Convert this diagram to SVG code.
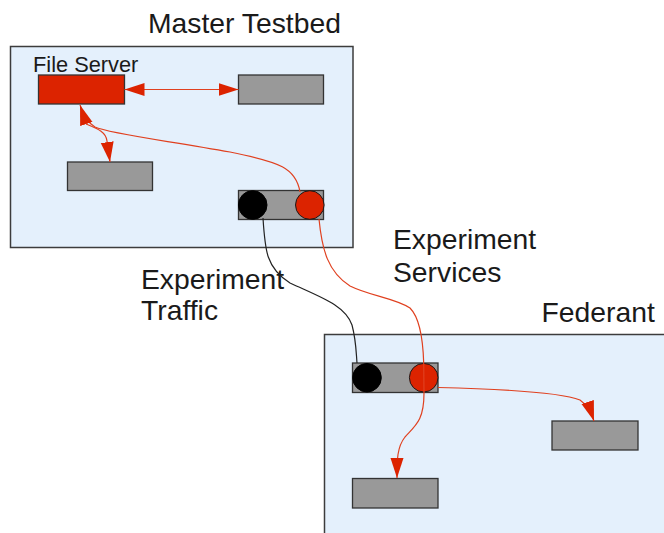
<svg xmlns="http://www.w3.org/2000/svg" width="664" height="533" viewBox="0 0 664 533">
<style>
.area{fill:#e4f0fc;stroke:#3c3c3c;stroke-width:1.5}
.box{fill:#999999;stroke:#333333;stroke-width:1.3}
.red{fill:#dc2300;stroke:#333333;stroke-width:1.3}
.dot{fill:#000000;stroke:#000000;stroke-width:1}
.rdot{fill:#dc2300;stroke:#1a1a1a;stroke-width:1}
.t{font-family:"Liberation Sans",Arial,sans-serif;fill:#1a1a1a}
.big{font-size:28.3px}
.small{font-size:21.8px}
.rl{fill:none;stroke:#e0401f;stroke-width:1.2}
.bl{fill:none;stroke:#222222;stroke-width:1.2}
</style>
<defs>
<marker id="ah" markerUnits="userSpaceOnUse" markerWidth="21" markerHeight="14" refX="20" refY="7" orient="auto-start-reverse">
<path d="M0,0.5 L20,7 L0,13.5 z" fill="#dc2300"/>
</marker>
</defs>
<g id="master">
<rect class="area" x="10.5" y="46.5" width="342.5" height="201"/>
<text class="t big" x="148" y="33">Master Testbed</text>
</g>
<g id="federant">
<rect class="area" x="324.5" y="334.5" width="360" height="220"/>
<text class="t big" x="541.5" y="322">Federant</text>
</g>
<g id="fileserver">
<text class="t small" x="33" y="71.7">File Server</text>
<rect class="red" x="38.5" y="75" width="86" height="29"/>
</g>
<g id="m-node1"><rect class="box" x="238.5" y="75" width="85" height="29"/></g>
<g id="m-node2"><rect class="box" x="67.5" y="162" width="85" height="28.5"/></g>
<g id="m-gateway">
<rect class="box" x="238.5" y="190.5" width="85" height="29"/>
<circle class="dot" cx="252.7" cy="205" r="14.3"/>
<circle class="rdot" cx="309.8" cy="205" r="14.3"/>
</g>
<g id="f-gateway">
<rect class="box" x="352.5" y="363" width="85.5" height="29.5"/>
<circle class="dot" cx="367" cy="377.7" r="14.3"/>
<circle class="rdot" cx="423.7" cy="377.7" r="14.3"/>
</g>
<g id="f-node1"><rect class="box" x="552" y="421" width="86" height="29"/></g>
<g id="f-node2"><rect class="box" x="352.5" y="478.5" width="85.5" height="29.5"/></g>
<g id="labels">
<text class="t big" x="141" y="289">Experiment</text>
<text class="t big" x="141" y="320">Traffic</text>
<text class="t big" x="393" y="249.3">Experiment</text>
<text class="t big" x="393" y="281.5">Services</text>
</g>
<g id="connectors">
<line class="rl" x1="124.5" y1="89.5" x2="238.5" y2="89.5" marker-start="url(#ah)" marker-end="url(#ah)"/>
<path class="rl" d="M300,192 C296,168 280,162 230,152 C170,141 110,134 95,127 C88,123 83,114 80,105" marker-end="url(#ah)"/>
<path class="rl" d="M86,124 C98,129 106,132 107,141 L110,162" marker-end="url(#ah)"/>
<path class="bl" d="M263,218 C265,250 266,268 290,283 C320,297 345,305 352,325 C356,340 356,350 357,363"/>
<path class="rl" d="M319,219 C322,250 328,272 350,286 C370,296 395,298 410,308 C420,318 423,340 423.7,363 L424,393 C424,420 416,425 405,437 C397,447 397,460 397,478" marker-end="url(#ah)"/>
<path class="rl" d="M438,387.5 C500,389 560,392 580,400 C587,405 591,412 594,421" marker-end="url(#ah)"/>
</g>
</svg>
